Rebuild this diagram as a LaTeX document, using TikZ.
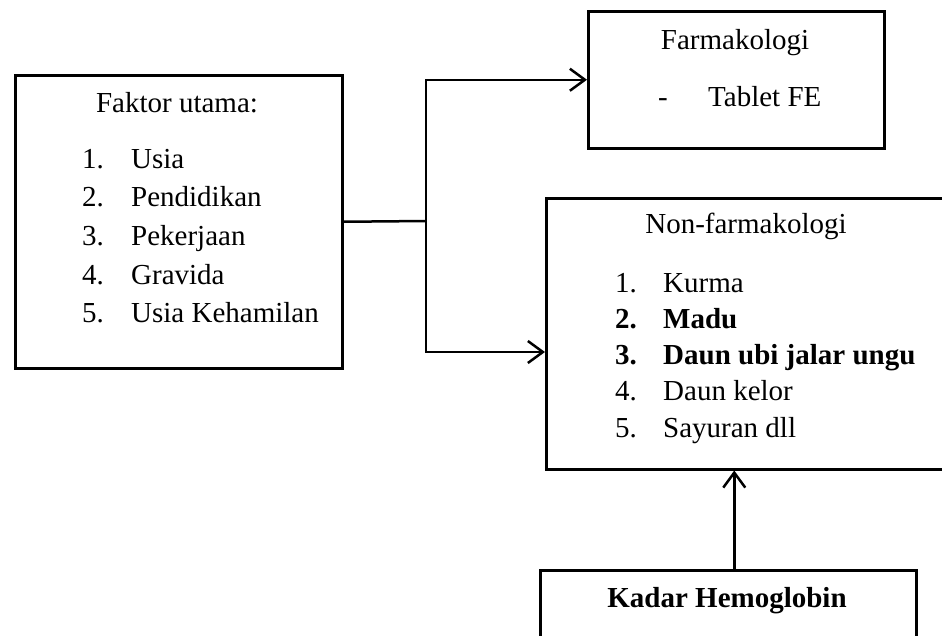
\documentclass[tikz,border=0pt]{standalone}
\usepackage{fontspec}
\setmainfont{Liberation Serif}
\usetikzlibrary{positioning, arrows.meta, calc}
\tikzset{%
  box/.style={draw, rectangle, line width=2.5pt, inner sep=0pt}, % the framed boxes
  txt/.style={inner sep=0pt, font=\fontsize{29}{38.7}\selectfont},
  link/.style={draw, line width=2.5pt},
  arr/.style={link, -{Straight Barb[length=15pt, width=22pt]}}
}

\begin{document}
\begin{tikzpicture}[x=1pt, y=-1pt]
    \useasboundingbox (0,0) rectangle (942,635);
    \clip (0,0) rectangle (942,635);

    % boxes
    \node[box, anchor=north west, minimum width=327pt, minimum height=293pt] (faktor) at (14,74) {};
    \node[box, anchor=north west, minimum width=296pt, minimum height=137pt] (farm) at (587,10) {};
    \node[box, anchor=north west, minimum width=402pt, minimum height=271pt] (nonfarm) at (545,197) {};
    \node[box, anchor=north west, minimum width=376pt, minimum height=90pt] (kadar) at (539,569) {};

    % texts
    \node[txt, anchor=base] (faktortitle) at (177,112) {Faktor utama:};
    \node[txt, anchor=base west] (faktorlist) at (82,168) {\begin{tabular}[t]{@{}p{49pt}@{}l@{}}
        1. & Usia\\
        2. & Pendidikan\\
        3. & Pekerjaan\\
        4. & Gravida\\
        5. & Usia Kehamilan
      \end{tabular}};

    \node[txt, anchor=base] (farmtitle) at (735,49) {Farmakologi};
    \node[txt, anchor=base west] (farmitem) at (658,106) {\makebox[50pt][l]{-}Tablet FE};

    \node[txt, anchor=base] (nonfarmtitle) at (746,233) {Non-farmakologi};
    \node[txt, anchor=base west, font=\fontsize{29}{36.3}\selectfont] (nonfarmlist) at (615,292) {\begin{tabular}[t]{@{}p{48pt}@{}l@{}}
        1. & Kurma\\
        \textbf{2.} & \textbf{Madu}\\
        \textbf{3.} & \textbf{Daun ubi jalar ungu}\\
        4. & Daun kelor\\
        5. & Sayuran dll
      \end{tabular}};

    \node[txt, anchor=base] (kadartitle) at (727,607) {\textbf{Kadar Hemoglobin}};

    % connectors
    \coordinate (split) at (426,221);
    \coordinate (low) at (426,352);
    \draw[link] (faktor.east) -- (split);
    \draw[arr] (split) |- (farm.west);
    \draw[arr] (split) -- (low) -- (nonfarm.west |- low);
    \draw[arr] ($(kadar.north)+(6,0)$) coordinate (hb) -- (hb |- nonfarm.south);
\end{tikzpicture}
\end{document}
